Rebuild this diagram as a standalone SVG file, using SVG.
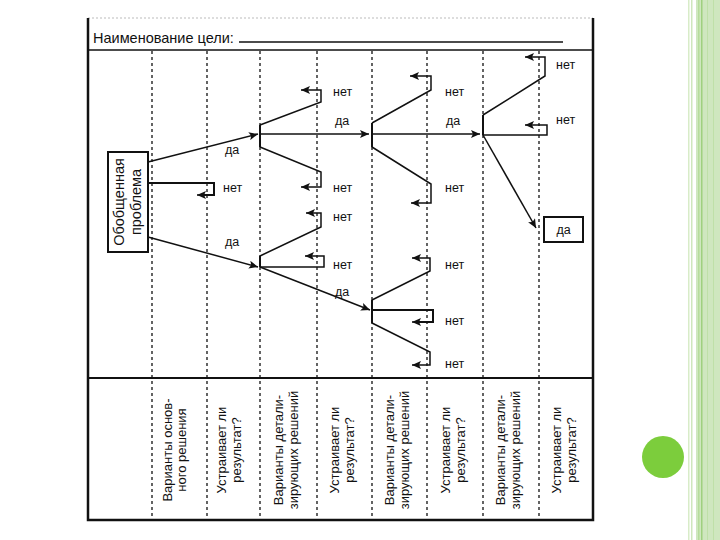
<svg xmlns="http://www.w3.org/2000/svg" width="720" height="540" viewBox="0 0 720 540">
<defs>
<marker id="arr" markerUnits="userSpaceOnUse" markerWidth="10" markerHeight="8" refX="9" refY="4" orient="auto">
<path d="M0,0 L9,4 L0,8 L2,4 z" fill="#111"/>
</marker>
<style>
.t{font-family:"Liberation Sans",Arial,sans-serif;fill:#111}
.lbl{font-size:12.5px}
.hd{font-size:13px;text-anchor:middle}
.ln{fill:none;stroke:#111;stroke-width:1.5}
.br{fill:none;stroke:#111;stroke-width:2}
.ar{fill:none;stroke:#111;stroke-width:1.5;marker-end:url(#arr)}
.dash{stroke:#111;stroke-width:1.3;stroke-dasharray:3,3}
.frame{fill:none;stroke:#111;stroke-width:2.5}
</style>
</defs>
<rect width="720" height="540" fill="#fff"/>
<g id="decor">
<rect x="688" y="0" width="1.5" height="540" fill="#d8ecc8"/>
<rect x="691" y="0" width="1.5" height="540" fill="#cfe6bd"/>
<rect x="696" y="0" width="24" height="540" fill="#cfe7bf"/>
<rect x="698" y="0" width="1.5" height="540" fill="#b6dc9c"/>
<rect x="701" y="0" width="1.5" height="540" fill="#9fd07f"/>
<rect x="707" y="0" width="1" height="540" fill="#bfe0a8"/>
<rect x="713" y="0" width="1" height="540" fill="#bfe0a8"/>
<circle cx="663" cy="457" r="21" fill="#7ccd3c"/>
</g>
<g id="frame">
<line x1="88" y1="18" x2="593" y2="18" stroke="#bbb" stroke-width="1" stroke-dasharray="2,2"/>
<polyline class="frame" points="88,18 88,520 593,520 593,18"/>
<line x1="88" y1="50" x2="593" y2="50" stroke="#111" stroke-width="1.5"/>
<line x1="88" y1="378" x2="593" y2="378" stroke="#111" stroke-width="2"/>
<text class="t" x="93" y="43" font-size="14.5">Наименование цели:</text>
<line x1="239" y1="42" x2="563" y2="42" stroke="#111" stroke-width="1.5"/>
</g>
<g id="columns">
<line class="dash" x1="152" y1="51" x2="152" y2="520"/>
<line class="dash" x1="207" y1="51" x2="207" y2="520"/>
<line class="dash" x1="260" y1="51" x2="260" y2="520"/>
<line class="dash" x1="317" y1="51" x2="317" y2="520"/>
<line class="dash" x1="372" y1="51" x2="372" y2="520"/>
<line class="dash" x1="427" y1="51" x2="427" y2="520"/>
<line class="dash" x1="483" y1="51" x2="483" y2="520"/>
<line class="dash" x1="539" y1="51" x2="539" y2="520"/>
</g>
<g id="headers">
<text class="t hd" transform="translate(172,450) rotate(-90)">Варианты основ-</text>
<text class="t hd" transform="translate(186,450) rotate(-90)">ного решения</text>
<text class="t hd" transform="translate(226,450) rotate(-90)">Устраивает ли</text>
<text class="t hd" transform="translate(241,450) rotate(-90)">результат?</text>
<text class="t hd" transform="translate(283,450) rotate(-90)">Варианты детали-</text>
<text class="t hd" transform="translate(298,450) rotate(-90)">зирующих решений</text>
<text class="t hd" transform="translate(339,450) rotate(-90)">Устраивает ли</text>
<text class="t hd" transform="translate(354,450) rotate(-90)">результат?</text>
<text class="t hd" transform="translate(394,450) rotate(-90)">Варианты детали-</text>
<text class="t hd" transform="translate(409,450) rotate(-90)">зирующих решений</text>
<text class="t hd" transform="translate(450,450) rotate(-90)">Устраивает ли</text>
<text class="t hd" transform="translate(465,450) rotate(-90)">результат?</text>
<text class="t hd" transform="translate(505,450) rotate(-90)">Варианты детали-</text>
<text class="t hd" transform="translate(520,450) rotate(-90)">зирующих решений</text>
<text class="t hd" transform="translate(561,450) rotate(-90)">Устраивает ли</text>
<text class="t hd" transform="translate(576,450) rotate(-90)">результат?</text>
</g>
<g id="problem">
<rect x="108" y="152" width="40" height="100" fill="#fff" stroke="#111" stroke-width="2"/>
<text class="t" font-size="14.5" text-anchor="middle" transform="translate(124,202) rotate(-90)">Обобщенная</text>
<text class="t" font-size="14.5" text-anchor="middle" transform="translate(141,202) rotate(-90)">проблема</text>
</g>
<g id="result">
<rect x="544" y="217" width="39" height="25" fill="#fff" stroke="#111" stroke-width="2"/>
<text class="t lbl" x="563.5" y="234" text-anchor="middle">да</text>
</g>
<g id="connectors">
<line class="ar" x1="148" y1="162" x2="258" y2="134"/>
<polyline class="br" points="148,183 214,183 214,195 199,195"/>
<line class="ar" x1="205" y1="195" x2="197" y2="195"/>
<line class="ar" x1="148" y1="237" x2="258" y2="267"/>
<line class="ar" x1="260" y1="267" x2="370" y2="310"/>

<line class="br" x1="260" y1="125" x2="260" y2="147"/>
<polyline class="ln" points="260,125 321,102 321,90 304,90"/>
<line class="ar" x1="308" y1="90" x2="301" y2="90"/>
<polyline class="ln" points="260,147 321,172 321,187 304,187"/>
<line class="ar" x1="308" y1="187" x2="301" y2="187"/>
<line class="ar" x1="260" y1="134" x2="369" y2="134"/>

<line class="br" x1="372" y1="123" x2="372" y2="147"/>
<polyline class="ln" points="372,123 431,90 431,76 413,76"/>
<line class="ar" x1="417" y1="76" x2="410" y2="76"/>
<polyline class="ln" points="372,147 431,184 431,203 414,203"/>
<line class="ar" x1="418" y1="203" x2="411" y2="203"/>
<line class="ar" x1="372" y1="134" x2="480" y2="134"/>

<line class="br" x1="483" y1="115" x2="483" y2="135"/>
<polyline class="ln" points="483,115 545,76 545,57 528,57"/>
<line class="ar" x1="532" y1="57" x2="525" y2="57"/>
<polyline class="ln" points="483,135 547,135 547,125 528,125"/>
<line class="ar" x1="532" y1="125" x2="525" y2="125"/>
<line class="ar" x1="483" y1="135" x2="536" y2="228"/>

<line class="br" x1="260" y1="256" x2="260" y2="267"/>
<polyline class="ln" points="260,256 321,227 321,213 309,213"/>
<line class="ar" x1="313" y1="213" x2="306" y2="213"/>
<polyline class="ln" points="260,267 324,267 324,256 308,256"/>
<line class="ar" x1="312" y1="256" x2="305" y2="256"/>

<line class="br" x1="372" y1="300" x2="372" y2="323"/>
<polyline class="ln" points="372,300 430,271 430,258 415,258"/>
<line class="ar" x1="419" y1="258" x2="412" y2="258"/>
<polyline class="br" points="372,310 433,310 433,322 415,322"/>
<line class="ar" x1="419" y1="322" x2="412" y2="322"/>
<polyline class="ln" points="372,323 430,352 430,365 415,365"/>
<line class="ar" x1="419" y1="365" x2="412" y2="365"/>
</g>
<g id="labels">
<text class="t lbl" x="225" y="154">да</text>
<text class="t lbl" x="223" y="192">нет</text>
<text class="t lbl" x="225" y="246">да</text>
<text class="t lbl" x="333" y="96">нет</text>
<text class="t lbl" x="335" y="125">да</text>
<text class="t lbl" x="333" y="192">нет</text>
<text class="t lbl" x="333" y="221">нет</text>
<text class="t lbl" x="333" y="269">нет</text>
<text class="t lbl" x="335" y="296">да</text>
<text class="t lbl" x="445" y="96">нет</text>
<text class="t lbl" x="446" y="125">да</text>
<text class="t lbl" x="445" y="192">нет</text>
<text class="t lbl" x="445" y="269">нет</text>
<text class="t lbl" x="445" y="325">нет</text>
<text class="t lbl" x="445" y="368">нет</text>
<text class="t lbl" x="556" y="69">нет</text>
<text class="t lbl" x="556" y="124">нет</text>
</g>
</svg>
